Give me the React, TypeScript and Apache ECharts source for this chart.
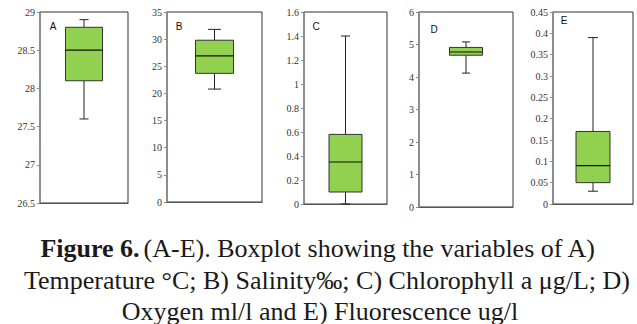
import React, { useEffect, useRef } from "react";
import * as echarts from "echarts";

const panels = ["A", "B", "C", "D", "E"];
const minValues = [27.6, 20.8, 0, 4.12, 0.03];
const q1Values = [28.1, 23.7, 0.1, 4.67, 0.05];
const medianValues = [28.5, 26.9, 0.35, 4.77, 0.09];
const q3Values = [28.8, 29.8, 0.58, 4.91, 0.17];
const maxValues = [28.9, 31.8, 1.4, 5.08, 0.39];
const axisMin = [26.5, 0, 0, 0, 0];
const axisMax = [29, 35, 1.6, 6, 0.45];
const axisStep = [0.5, 5, 0.2, 1, 0.05];

const captionLines = [
  "(A-E). Boxplot showing the variables of A)",
  "Temperature °C; B) Salinity‰; C) Chlorophyll a μg/L; D)",
  "Oxygen ml/l and E) Fluorescence ug/l",
];

const SERIF = "'Liberation Serif', 'Times New Roman', Times, serif";
const SANS = "'Liberation Sans', Arial, sans-serif";

// layout (pixels)
const grids = [
  { left: 40, top: 12, width: 88, height: 191, box: 37, cap: 9, lx: 53, ly: 26 },
  { left: 167, top: 12, width: 95, height: 190, box: 38, cap: 13, lx: 179, ly: 26 },
  { left: 304, top: 12, width: 83, height: 192, box: 33, cap: 9, lx: 316, ly: 26 },
  { left: 419, top: 12, width: 94, height: 195, box: 33, cap: 8, lx: 434, ly: 29 },
  { left: 553, top: 12, width: 80, height: 192, box: 34, cap: 10, lx: 564, ly: 20 },
];

export default function App() {
  const ref = useRef<HTMLDivElement>(null);
  useEffect(() => {
    document.body.style.margin = "0";
    const chart = echarts.init(ref.current!, null, { renderer: "svg" });
    const option: any = {
      animation: false,
      backgroundColor: "#ffffff",
      grid: grids.map((g) => ({
        left: g.left,
        top: g.top,
        width: g.width,
        height: g.height,
        show: true,
        borderColor: "#333",
        borderWidth: 1,
        backgroundColor: "transparent",
      })),
      xAxis: panels.map((p, i) => ({
        type: "category",
        gridIndex: i,
        data: [p],
        axisLabel: { show: false },
        axisTick: { show: false },
        axisLine: { show: true, lineStyle: { color: "#555", width: 1 } },
        splitLine: { show: false },
      })),
      yAxis: panels.map((p, i) => ({
        type: "value",
        gridIndex: i,
        min: axisMin[i],
        max: axisMax[i],
        interval: axisStep[i],
        axisLine: { show: true, lineStyle: { color: "#8a8a8a", width: 1.5 } },
        axisTick: { show: true, length: 3, lineStyle: { color: "#8a8a8a" } },
        axisLabel: {
          fontFamily: SERIF,
          fontSize: 10,
          color: "#333",
          margin: 5,
        },
        splitLine: { show: false },
      })),
      series: panels.map((p, i) => ({
        type: "custom",
        xAxisIndex: i,
        yAxisIndex: i,
        data: [[0, minValues[i], q1Values[i], medianValues[i], q3Values[i], maxValues[i]]],
        renderItem: (params: any, api: any) => {
          const x = api.value(0);
          const pMin = api.coord([x, api.value(1)]);
          const pQ1 = api.coord([x, api.value(2)]);
          const pMed = api.coord([x, api.value(3)]);
          const pQ3 = api.coord([x, api.value(4)]);
          const pMax = api.coord([x, api.value(5)]);
          const cx = pMed[0];
          const hw = grids[i].box / 2;
          const hc = grids[i].cap / 2;
          const ls = { stroke: "#222", lineWidth: 1 };
          return {
            type: "group",
            children: [
              { type: "line", shape: { x1: cx, y1: pQ3[1], x2: cx, y2: pMax[1] }, style: ls },
              { type: "line", shape: { x1: cx, y1: pQ1[1], x2: cx, y2: pMin[1] }, style: ls },
              { type: "line", shape: { x1: cx - hc, y1: pMax[1], x2: cx + hc, y2: pMax[1] }, style: ls },
              { type: "line", shape: { x1: cx - hc, y1: pMin[1], x2: cx + hc, y2: pMin[1] }, style: ls },
              {
                type: "rect",
                shape: { x: cx - hw, y: pQ3[1], width: hw * 2, height: pQ1[1] - pQ3[1] },
                style: { fill: "#92D050", stroke: "#333", lineWidth: 1 },
              },
              { type: "line", shape: { x1: cx - hw, y1: pMed[1], x2: cx + hw, y2: pMed[1] }, style: { stroke: "#111", lineWidth: 1.2 } },
            ],
          };
        },
      })),
      graphic: [
        ...panels.map((p, i) => ({
          type: "text",
          x: grids[i].lx,
          y: grids[i].ly,
          style: {
            text: p,
            fontFamily: SANS,
            fontSize: 10,
            fill: "#111",
            verticalAlign: "middle",
            align: "center",
          },
        })),
        {
          type: "text",
          x: 318,
          y: 248,
          style: {
            text: "{b|Figure 6.} {n|" + captionLines[0] + "}",
            rich: {
              b: { fontFamily: SERIF, fontSize: 26, fontWeight: "bold", fill: "#1a1a1a" },
              n: { fontFamily: SERIF, fontSize: 26, fill: "#1a1a1a" },
            },
            align: "center",
            verticalAlign: "middle",
          },
        },
        {
          type: "text",
          x: 327,
          y: 280,
          style: {
            text: captionLines[1],
            fontFamily: SERIF,
            fontSize: 26,
            fill: "#1a1a1a",
            align: "center",
            verticalAlign: "middle",
          },
        },
        {
          type: "text",
          x: 320,
          y: 311,
          style: {
            text: captionLines[2],
            fontFamily: SERIF,
            fontSize: 26,
            fill: "#1a1a1a",
            align: "center",
            verticalAlign: "middle",
          },
        },
      ],
    };
    chart.setOption(option);
    return () => chart.dispose();
  }, []);
  return <div ref={ref} style={{ width: 637, height: 324 }} />;
}
